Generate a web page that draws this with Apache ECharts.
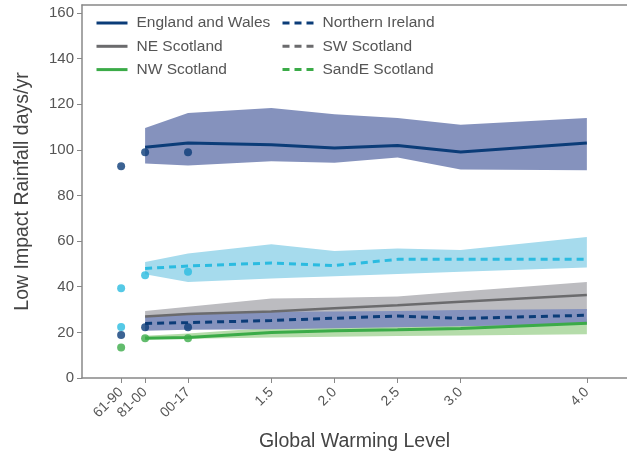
<!DOCTYPE html>
<html>
<head>
<meta charset="utf-8">
<script src="https://cdn.jsdelivr.net/npm/echarts@6/dist/echarts.min.js"></script>
<style>
  html, body { margin: 0; padding: 0; background: #fff; }
  #chart-container { width: 627px; height: 457px; }
</style>
</head>
<body>
<div id="chart-container"></div>
<script>
// x positions of the tick labels (warming level; the three baseline periods sit left of 1.5)
var tickPos = [0.31, 0.5, 0.84, 1.5, 2.0, 2.5, 3.0, 4.0];
var tickLabels = ['61-90', '81-00', '00-17', '1.5', '2.0', '2.5', '3.0', '4.0'];

// projections: 81-00, 00-17, 1.5, 2.0, 2.5, 3.0, 4.0
var projX = [0.5, 0.84, 1.5, 2.0, 2.5, 3.0, 4.0];

var engWalesMid = [101.1, 103.0, 102.2, 100.8, 101.9, 99.1, 103.0];
var engWalesLo  = [94.0, 93.1, 95.0, 94.3, 96.7, 91.4, 91.1];
var engWalesHi  = [109.6, 116.2, 118.3, 115.6, 114.0, 111.0, 114.0];

var sandEMid = [48.0, 49.1, 50.4, 49.3, 52.0, 52.0, 52.0];
var sandELo  = [45.5, 42.1, 43.6, 44.6, 45.6, 46.6, 48.4];
var sandEHi  = [50.8, 54.6, 58.6, 55.7, 56.8, 56.1, 61.8];

var neScotMid = [27.0, 28.0, 29.2, 30.6, 31.9, 33.4, 36.4];
var neScotLo  = [26.0, 27.0, 27.5, 28.0, 28.5, 29.0, 29.5];
var neScotHi  = [29.4, 31.2, 34.8, 35.2, 35.7, 37.9, 42.1];

var nIrelandMid = [23.9, 24.3, 25.2, 26.2, 27.2, 26.1, 27.5];
var nIrelandLo  = [20.7, 21.2, 21.4, 21.8, 22.2, 22.7, 23.6];
var nIrelandHi  = [27.0, 28.5, 29.0, 29.2, 29.4, 29.8, 30.2];

var nwScotMid = [17.4, 17.8, 19.9, 20.7, 21.1, 21.7, 24.0];
var nwScotLo  = [17.0, 17.2, 17.8, 18.1, 18.4, 18.6, 19.2];
var nwScotHi  = [18.5, 19.5, 22.0, 23.0, 24.0, 25.0, 26.0];

// observed baseline dots: 61-90, 81-00, 00-17
var obsX = [0.31, 0.5, 0.84];
var engWalesObs = [92.8, 98.9, 98.9];
var sandEObs    = [39.3, 45.0, 46.6];
var nIrelandObs = [18.8, 22.3, 22.3];
var nwScotObs   = [13.4, 17.4, 17.4];
var swScotObs   = [22.4];

var NAVY = '#0b3c78', NAVY_BAND = '#8592bd';
var CYAN = '#2bbbe0', CYAN_BAND = '#a6dbed';
var GREY = '#6b6b6d', GREY_BAND = '#bcbcc0';
var GREEN = '#3bab48', GREEN_BAND = '#b5dcaa';
var FONT = '"Liberation Sans", Arial, sans-serif';

var pairs = function (xs, ys) {
    return ys.map(function (y, i) { return [xs[i], y]; });
};

// shaded range drawn as one polygon through the axes' scales
var band = function (name, lo, hi, color, z) {
    return {
        type: 'custom', name: name, silent: true, z: z,
        data: projX.map(function (x, i) { return [x, lo[i], hi[i]]; }),
        renderItem: function (params, api) {
            if (params.dataIndex !== 0) return;
            var pts = [];
            for (var i = 0; i < projX.length; i++) pts.push(api.coord([projX[i], hi[i]]));
            for (var j = projX.length - 1; j >= 0; j--) pts.push(api.coord([projX[j], lo[j]]));
            return { type: 'polygon', shape: { points: pts }, style: { fill: color } };
        }
    };
};

var line = function (name, mid, color, type, width) {
    return {
        type: 'line', name: name, data: pairs(projX, mid), symbol: 'none', z: 10,
        color: color,
        lineStyle: { color: color, width: width, type: type }
    };
};

var dots = function (name, ys, color) {
    return {
        type: 'scatter', name: name, data: pairs(obsX, ys), symbolSize: 8, z: 12,
        itemStyle: { color: color }
    };
};

var dash = [7, 5];

var legendBase = {
    top: 15, orient: 'vertical', padding: 0,
    itemWidth: 31, itemHeight: 14, itemGap: 7.3,
    itemStyle: { opacity: 0 },
    lineStyle: { width: 3 },
    textStyle: { fontSize: 15.5, color: '#555', padding: [0, 0, 0, 4] }
};

var option = {
    animation: false,
    textStyle: { fontFamily: FONT },
    grid: { left: 82, right: 0, top: 5, bottom: 78 },
    legend: [
        Object.assign({}, legendBase, {
            left: 95,
            data: ['England and Wales', 'NE Scotland', 'NW Scotland']
        }),
        Object.assign({}, legendBase, {
            left: 281,
            data: ['Northern Ireland', 'SW Scotland',
                { name: 'SandE Scotland', lineStyle: { color: GREEN, width: 3 }, itemStyle: { color: GREEN, opacity: 0 } }]
        })
    ],
    xAxis: [{
        type: 'value', min: 0, max: 4.318,
        name: 'Global Warming Level', nameLocation: 'middle', nameGap: 54,
        nameTextStyle: { fontSize: 19.5, color: '#444' },
        splitLine: { show: false },
        axisLine: { lineStyle: { color: '#888', width: 1.5 } },
        axisTick: { customValues: tickPos, length: 5, lineStyle: { color: '#888' } },
        axisLabel: {
            customValues: tickPos, rotate: 45, fontSize: 14, color: '#555', margin: 12,
            formatter: function (v) {
                var k = tickPos.indexOf(v);
                return k >= 0 ? tickLabels[k] : '';
            }
        }
    }, {
        type: 'value', position: 'top', min: 0, max: 4.318,
        axisLine: { show: true, lineStyle: { color: '#888', width: 1.5 } },
        axisTick: { show: false }, axisLabel: { show: false }, splitLine: { show: false }
    }],
    yAxis: {
        type: 'value', min: 0, max: 163.5, interval: 20,
        name: 'Low Impact Rainfall days/yr', nameLocation: 'middle', nameGap: 49,
        nameTextStyle: { fontSize: 19.5, color: '#444' },
        splitLine: { show: false },
        axisLine: { show: true, lineStyle: { color: '#888', width: 1.5 } },
        axisTick: { show: true, length: 5, lineStyle: { color: '#888' } },
        axisLabel: { fontSize: 15, color: '#555', margin: 8, showMaxLabel: false }
    },
    series: [
        band('England and Wales range', engWalesLo, engWalesHi, NAVY_BAND, 1),
        band('SandE Scotland range', sandELo, sandEHi, CYAN_BAND, 2),
        band('NE Scotland range', neScotLo, neScotHi, GREY_BAND, 3),
        band('NW Scotland range', nwScotLo, nwScotHi, GREEN_BAND, 4),
        band('Northern Ireland range', nIrelandLo, nIrelandHi, NAVY_BAND, 5),
        line('England and Wales', engWalesMid, NAVY, 'solid', 3),
        line('NE Scotland', neScotMid, GREY, 'solid', 2.5),
        line('NW Scotland', nwScotMid, GREEN, 'solid', 3),
        line('Northern Ireland', nIrelandMid, NAVY, dash, 3),
        { type: 'line', name: 'SW Scotland', data: [], symbol: 'none', color: GREY,
          lineStyle: { color: GREY, width: 2.5, type: dash } },
        line('SandE Scotland', sandEMid, CYAN, dash, 3),
        dots('England and Wales obs', engWalesObs, NAVY),
        dots('SandE Scotland obs', sandEObs, CYAN),
        dots('SW Scotland obs', swScotObs, CYAN),
        dots('Northern Ireland obs', nIrelandObs, NAVY),
        dots('NW Scotland obs', nwScotObs, GREEN)
    ]
};

var myChart = echarts.init(document.getElementById('chart-container'));
myChart.setOption(option);
</script>
</body>
</html>
